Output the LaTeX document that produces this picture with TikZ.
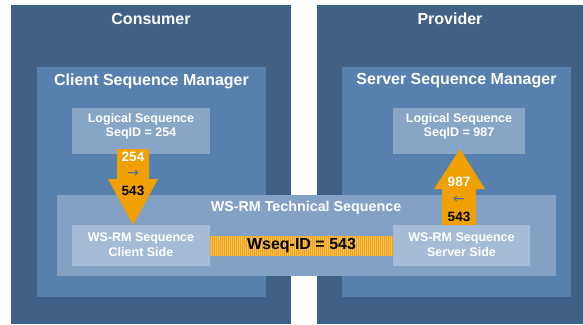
\documentclass[tikz,border=0pt]{standalone}
\usepackage{fontspec}
\setmainfont{Liberation Sans}
\newfontfamily\symfont{DejaVu Sans}
\definecolor{outerblue}{HTML}{406186}
\definecolor{mgrblue}{HTML}{5680AE}
\definecolor{techblue}{HTML}{82A1C4}
\definecolor{logblue}{HTML}{87A5C6}
\definecolor{seqblue}{HTML}{A6BCD6}
\definecolor{arrorange}{HTML}{F0A000}
\definecolor{barlight}{HTML}{FAC158}
\definecolor{bardark}{HTML}{F0A41C}
\definecolor{symgray}{HTML}{4A6E9C}
\tikzset{
  box/.style={anchor=north west, inner sep=0pt, outer sep=0pt, draw=none},
  title/.style={text=white, font=\bfseries\fontsize{16}{18}\selectfont, inner sep=0pt},
  small/.style={text=white, font=\bfseries\fontsize{12.5}{14.5}\selectfont, align=center, inner sep=0pt},
  num/.style={font=\bfseries\fontsize{13.5}{15}\selectfont, inner sep=0pt},
  sym/.style={text=symgray, font=\symfont\fontsize{14}{16}\selectfont, inner sep=0pt},
}
\begin{document}
\begin{tikzpicture}[x=1pt,y=-1pt]
\useasboundingbox (0,0) rectangle (583,324);
\fill[white] (0,0) rectangle (583,324);
% outer boxes
\node[box, fill=outerblue, minimum width=280pt, minimum height=319pt] (consumer) at (11,5) {};
\node[box, fill=outerblue, minimum width=266pt, minimum height=319pt] (provider) at (317,5) {};
\node[title] at (151,19) {Consumer};
\node[title] at (450,19) {Provider};
% managers
\node[box, fill=mgrblue, minimum width=229pt, minimum height=230pt] (cmgr) at (37,67) {};
\node[box, fill=mgrblue, minimum width=229pt, minimum height=230pt] (smgr) at (342,67) {};
\node[title] at (151.5,81) {Client Sequence Manager};
\node[title] at (456.5,81) {Server Sequence Manager};
% logical sequences
\node[box, fill=logblue, minimum width=138pt, minimum height=46pt] (lsc) at (72,108) {};
\node[small] at (141,126.5) {Logical Sequence\\SeqID = 254};
\node[box, fill=logblue, minimum width=132pt, minimum height=46pt] (lss) at (393,108) {};
\node[small] at (459,126.5) {Logical Sequence\\SeqID = 987};
% technical sequence
\node[box, fill=techblue, minimum width=499pt, minimum height=81pt] (tech) at (57,195) {};
\node[title, font=\bfseries\fontsize{14.3}{16}\selectfont] at (306,208) {WS-RM Technical Sequence};
% WS-RM sequence boxes
\node[box, fill=seqblue, minimum width=138pt, minimum height=41pt] (wsc) at (72,225) {};
\node[small] at (141,244.5) {WS-RM Sequence\\Client Side};
\node[box, fill=seqblue, minimum width=137pt, minimum height=41pt] (wss) at (393,225) {};
\node[small] at (461.5,244.5) {WS-RM Sequence\\Server Side};
% striped bar
\fill[barlight] (wsc.east |- 0,236) rectangle (wss.west |- 0,256);
\foreach \i in {0,2,...,182} {
  \fill[bardark] (210+\i,236) rectangle (210.6+\i,256);
}
\node[font=\bfseries\fontsize{16}{18}\selectfont, inner sep=0pt] (bar) at (301.5,246) {Wseq-ID = 543};
% left down arrow
\fill[arrorange] (117,149) -- (149,149) -- (149,179) -- (158,179) -- (133,225) -- (108,179) -- (117,179) -- cycle;
\node[num, text=white] at (133,157) {254};
\node[sym] at (133,174) {→};
\node[num, text=black] at (133,191) {543};
% right up arrow
\fill[arrorange] (442,225) -- (476,225) -- (476,189) -- (485,189) -- (460,149) -- (434,189) -- (442,189) -- cycle;
\node[num, text=white] at (459,182) {987};
\node[sym] at (459,200) {←};
\node[num, text=black] at (459,217) {543};
\end{tikzpicture}
\end{document}
